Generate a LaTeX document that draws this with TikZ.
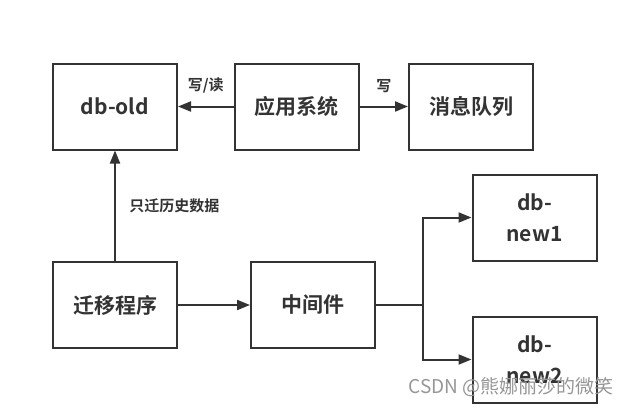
\documentclass[tikz,border=0pt]{standalone}
\usepackage{fontspec}
\setmainfont{Noto Sans CJK SC}[BoldFont={Noto Sans CJK SC Bold}]
\usepackage{xcolor}
\usepackage{tikz}
\usetikzlibrary{arrows.meta, positioning}
\definecolor{inkgray}{RGB}{51,51,51}
\definecolor{markgray}{RGB}{150,150,150}

\tikzset{
  box/.style={draw=inkgray, line width=2pt, minimum width=124pt, minimum height=86pt,
    font=\bfseries\fontsize{21}{31}\selectfont, text=inkgray, align=center},
  flow/.style={draw=inkgray, line width=2pt, -{Triangle[length=13pt,width=10pt]}},
  lbl/.style={font=\bfseries\fontsize{15}{18}\selectfont, text=inkgray}
}

\begin{document}
\begin{tikzpicture}[x=1pt,y=-1pt]
\useasboundingbox (0,0) rectangle (634,415);

% upper row
\node[box] (dbold) at (115,106.5) {db-old};
\node[box] (app) at (296.5,106.5) {应用系统};
\node[box] (mq) at (471,106.5) {消息队列};

% lower row
\node[box] (migrate) at (115,305) {迁移程序};
\node[box] (mid) at (313,305) {中间件};

% new databases
\node[box] (new1) at (534.5,217.5) {db-\\new1};
\node[box] (new2) at (534.5,359.5) {db-\\new2};

% connections
\draw[flow] (app) -- node[lbl, above=9pt] {写/读} (dbold);
\draw[flow] (app) -- node[lbl, above=9pt] {写} (mq);
\draw[flow] (migrate) -- node[lbl, right=10pt] {只迁历史数据} (dbold);
\draw[flow] (migrate) -- (mid);

\coordinate (fork) at (423,305);
\draw[flow] (mid.east) -- (fork) |- (new1.west);
\draw[flow] (mid.east) -- (fork) |- (new2.west);

% watermark
\node[anchor=west, text=markgray, font=\fontsize{19}{22}\selectfont] (mark) at (405,387) {CSDN @熊娜丽莎的微笑};
\end{tikzpicture}
\end{document}
